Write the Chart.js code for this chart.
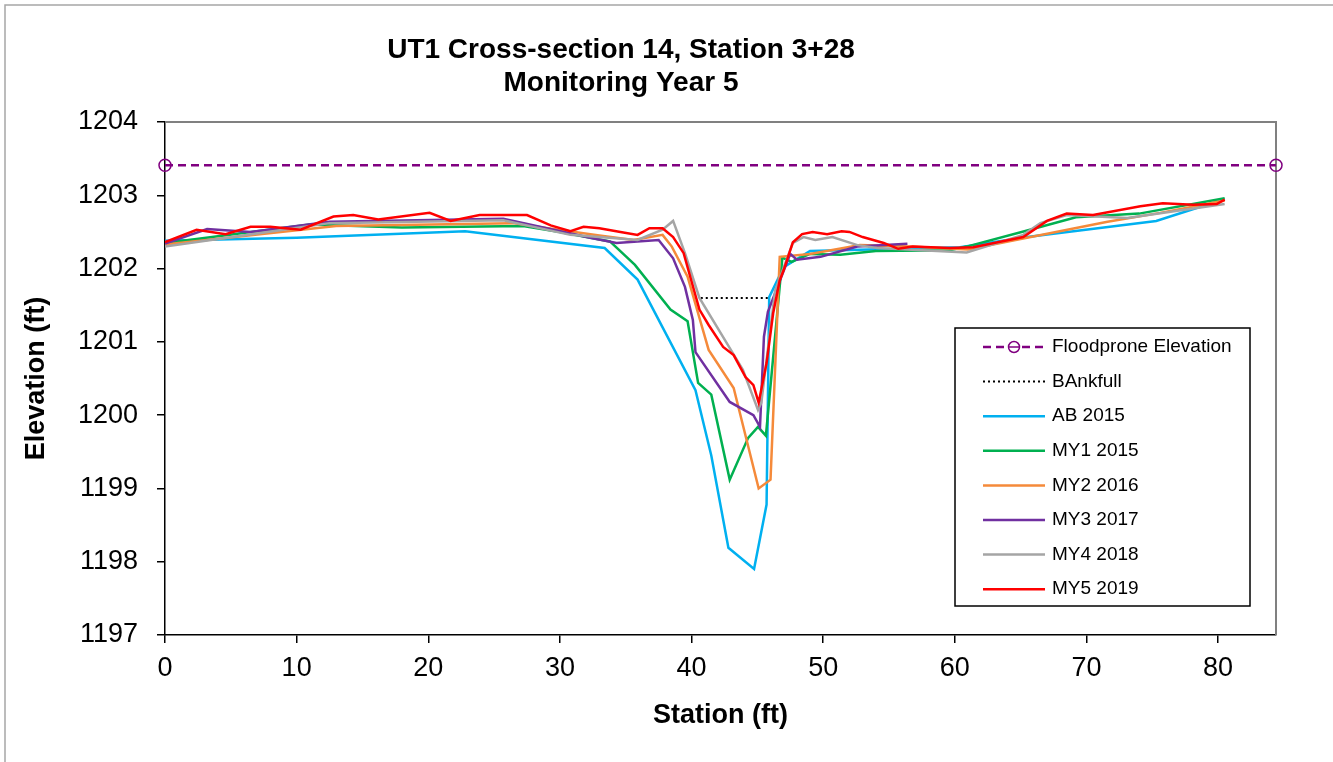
<!DOCTYPE html>
<html>
<head>
<meta charset="utf-8">
<script src="https://cdn.jsdelivr.net/npm/chart.js@4.4.1/dist/chart.umd.min.js"></script>
<style>
  html, body { margin: 0; padding: 0; background: #fff; }
  #wrap { width: 1333px; height: 762px; position: relative; }
</style>
</head>
<body>
<div id="wrap"><canvas id="xsChart" width="1333" height="762"></canvas></div>
<script>
//-------------
//- DATA (station ft / elevation ft)
//-------------
var titleLines = ["UT1 Cross-section 14, Station 3+28", "Monitoring Year 5"];

var floodX = [0, 84.4];
var floodY = [1203.41, 1203.41];

var bankX = [40.7, 45.9];
var bankY = [1201.6, 1201.6];

var abX = [0, 10, 22.8, 33.4, 35.9, 40.3, 41.5, 42.8, 44.75, 45.7, 45.9, 47.0, 49.0, 60.4, 65.5, 75.3, 80.5];
var abY = [1202.38, 1202.42, 1202.51, 1202.28, 1201.85, 1200.34, 1199.45, 1198.19, 1197.90, 1198.78, 1201.61, 1202.02, 1202.24, 1202.29, 1202.43, 1202.65, 1202.95];

var my1X = [0, 11, 18, 27.2, 30, 33.8, 35.7, 38.4, 39.7, 40.5, 41.5, 42.9, 44.3, 45.05, 45.65, 46.9, 47.6, 49, 51.3, 54, 59.6, 60.9, 65.5, 69.2, 74, 80.5];
var my1Y = [1202.35, 1202.6, 1202.56, 1202.58, 1202.5, 1202.37, 1202.05, 1201.44, 1201.28, 1200.44, 1200.28, 1199.12, 1199.69, 1199.84, 1199.72, 1202.15, 1202.09, 1202.2, 1202.19, 1202.24, 1202.25, 1202.3, 1202.52, 1202.7, 1202.75, 1202.96];

var my2X = [0, 13, 26.4, 33, 35.6, 37.8, 38.5, 39.7, 41.3, 43.2, 45.1, 46, 46.7, 49, 52.8, 56.6, 61, 71.6, 75.6, 80.5];
var my2Y = [1202.33, 1202.58, 1202.62, 1202.45, 1202.39, 1202.46, 1202.3, 1201.89, 1200.89, 1200.37, 1199.0, 1199.12, 1202.16, 1202.2, 1202.32, 1202.3, 1202.26, 1202.64, 1202.76, 1202.93];

var my3X = [0, 3.2, 6.5, 12.5, 25.7, 32.3, 34.3, 37.5, 38.6, 39.5, 40.1, 40.3, 42.9, 44.7, 45.2, 45.5, 45.8, 47.5, 48, 49.8, 52.6, 56.4];
var my3Y = [1202.34, 1202.54, 1202.5, 1202.64, 1202.68, 1202.42, 1202.35, 1202.39, 1202.14, 1201.75, 1201.3, 1200.86, 1200.18, 1200.0, 1199.84, 1201.07, 1201.41, 1202.2, 1202.12, 1202.16, 1202.3, 1202.34];

var my4X = [0, 9, 12.5, 25.7, 30.8, 35.9, 37.8, 38.6, 39.5, 40.6, 43.9, 45.05, 45.3, 46.35, 47.7, 48.5, 49.4, 50.7, 52.6, 54.1, 60.9, 65.2, 66.5, 68.5, 73.1, 80.5];
var my4Y = [1202.3, 1202.53, 1202.62, 1202.66, 1202.46, 1202.39, 1202.53, 1202.65, 1202.21, 1201.6, 1200.62, 1200.07, 1200.17, 1201.7, 1202.35, 1202.43, 1202.39, 1202.43, 1202.32, 1202.28, 1202.22, 1202.46, 1202.62, 1202.73, 1202.69, 1202.88];

var my5X = [0, 2.4, 4.6, 6.5, 8, 10.3, 12.8, 14.3, 16.2, 20.1, 21.7, 23.9, 27.5, 29.3, 30.8, 31.8, 33, 34.6, 35.9, 36.8, 37.8, 38.6, 39.4, 40.6, 41.3, 42.4, 43.2, 44.1, 44.7, 45.1, 45.7, 46.2, 46.7, 47.0, 47.7, 48.4, 49.2, 50.3, 51.4, 52, 53, 54.6, 55.7, 56.8, 59.6, 61.4, 65.2, 67, 68.5, 70.5, 74.1, 75.8, 78.1, 79.9, 80.5];
var my5Y = [1202.36, 1202.53, 1202.47, 1202.57, 1202.57, 1202.53, 1202.71, 1202.73, 1202.67, 1202.76, 1202.65, 1202.73, 1202.73, 1202.59, 1202.51, 1202.57, 1202.55, 1202.5, 1202.46, 1202.55, 1202.55, 1202.43, 1202.21, 1201.44, 1201.23, 1200.93, 1200.82, 1200.52, 1200.41, 1200.17, 1200.71, 1201.39, 1201.84, 1201.98, 1202.36, 1202.47, 1202.5, 1202.47, 1202.51, 1202.5, 1202.43, 1202.35, 1202.27, 1202.3, 1202.28, 1202.29, 1202.43, 1202.65, 1202.75, 1202.73, 1202.85, 1202.89, 1202.87, 1202.88, 1202.94];

//-------------
//- STYLE
//-------------
var FONT = "'Liberation Sans', Arial, sans-serif";
var COLOR_FLOOD = "#800080";
var COLOR_AB = "#00B0F0";
var COLOR_MY1 = "#00B050";
var COLOR_MY2 = "#F58A3A";
var COLOR_MY3 = "#7030A0";
var COLOR_MY4 = "#A5A5A5";
var COLOR_MY5 = "#FF0000";

function pts(xs, ys) {
    var out = [];
    for (var i = 0; i < xs.length; i++) {
        out.push({ x: xs[i], y: ys[i] });
    }
    return out;
}

function survey(label, xs, ys, color) {
    return {
        label: label,
        data: pts(xs, ys),
        borderColor: color,
        backgroundColor: color,
        borderWidth: 2.5,
        pointRadius: 0,
        tension: 0,
        fill: false
    };
}

var datasets = [
    {
        label: "Floodprone Elevation",
        data: pts(floodX, floodY),
        borderColor: COLOR_FLOOD,
        borderWidth: 2.5,
        borderDash: [8, 5],
        pointRadius: 6,
        pointStyle: "circle",
        pointBorderColor: COLOR_FLOOD,
        pointBackgroundColor: "rgba(0,0,0,0)",
        pointBorderWidth: 1.5,
        clip: false,
        fill: false
    },
    {
        label: "BAnkfull",
        data: pts(bankX, bankY),
        borderColor: "#000000",
        borderWidth: 2,
        borderDash: [2, 3],
        pointRadius: 0,
        fill: false
    },
    survey("AB 2015", abX, abY, COLOR_AB),
    survey("MY1 2015", my1X, my1Y, COLOR_MY1),
    survey("MY2 2016", my2X, my2Y, COLOR_MY2),
    survey("MY3 2017", my3X, my3Y, COLOR_MY3),
    survey("MY4 2018", my4X, my4Y, COLOR_MY4),
    survey("MY5 2019", my5X, my5Y, COLOR_MY5)
];
// later surveys drawn on top
for (var i = 0; i < datasets.length; i++) {
    datasets[i].order = datasets.length - i;
}

//- frame, title, plot box border and boxed legend
var decorPlugin = {
    id: "decor",
    beforeDraw: function (chart) {
        var ctx = chart.ctx;
        ctx.save();
        ctx.fillStyle = "#fff";
        ctx.fillRect(0, 0, chart.width, chart.height);
        ctx.strokeStyle = "#A6A6A6";
        ctx.lineWidth = 1.5;
        ctx.strokeRect(5, 5, chart.width + 20, chart.height + 20);
        ctx.fillStyle = "#000";
        ctx.font = "bold 28px " + FONT;
        ctx.textAlign = "center";
        ctx.textBaseline = "middle";
        ctx.fillText(titleLines[0], 621, 50);
        ctx.fillText(titleLines[1], 621, 83);
        ctx.restore();
    },
    beforeDatasetsDraw: function (chart) {
        var a = chart.chartArea;
        var ctx = chart.ctx;
        ctx.save();
        ctx.strokeStyle = "#808080";
        ctx.lineWidth = 2;
        ctx.beginPath();
        ctx.moveTo(a.left, a.top);
        ctx.lineTo(a.right, a.top);
        ctx.lineTo(a.right, a.bottom);
        ctx.stroke();
        ctx.restore();
    },
    afterDraw: function (chart) {
        var ctx = chart.ctx;
        var box = { x: 955, y: 328, w: 295, h: 278 };
        ctx.save();
        ctx.fillStyle = "#fff";
        ctx.fillRect(box.x, box.y, box.w, box.h);
        ctx.strokeStyle = "#000";
        ctx.lineWidth = 1.5;
        ctx.strokeRect(box.x, box.y, box.w, box.h);
        ctx.font = "19px " + FONT;
        ctx.textAlign = "left";
        ctx.textBaseline = "middle";
        var ds = chart.data.datasets;
        for (var i = 0; i < ds.length; i++) {
            var y = 347 + i * 34.6;
            ctx.strokeStyle = ds[i].borderColor;
            ctx.lineWidth = ds[i].borderWidth;
            ctx.setLineDash(ds[i].borderDash || []);
            ctx.beginPath();
            ctx.moveTo(983, y);
            ctx.lineTo(1045, y);
            ctx.stroke();
            ctx.setLineDash([]);
            if (ds[i].pointRadius > 0) {
                ctx.lineWidth = ds[i].pointBorderWidth;
                ctx.beginPath();
                ctx.arc(1014, y, 5.5, 0, Math.PI * 2);
                ctx.fillStyle = "#fff";
                ctx.fill();
                ctx.stroke();
                ctx.beginPath();
                ctx.moveTo(1008.5, y);
                ctx.lineTo(1019.5, y);
                ctx.stroke();
            }
            ctx.fillStyle = "#000";
            ctx.fillText(ds[i].label, 1052, y);
        }
        ctx.restore();
    }
};

var ctx = document.getElementById("xsChart").getContext("2d");
var chart = new Chart(ctx, {
    type: "line",
    data: { datasets: datasets },
    plugins: [decorPlugin],
    options: {
        responsive: false,
        animation: false,
        devicePixelRatio: 1,
        layout: { padding: { top: 122, right: 57, bottom: 0, left: 0 } },
        plugins: {
            legend: { display: false },
            title: { display: false },
            tooltip: { enabled: false }
        },
        scales: {
            x: {
                type: "linear",
                min: 0,
                max: 84.4,
                afterFit: function (scale) { scale.height = 127; },
                border: { display: true, color: "#000", width: 1.5 },
                grid: { drawOnChartArea: false, drawTicks: true, tickLength: 8, color: "#000", lineWidth: 1.5 },
                ticks: {
                    stepSize: 10,
                    includeBounds: false,
                    maxRotation: 0,
                    padding: 9,
                    color: "#000",
                    font: { family: FONT, size: 27 },
                    callback: function (v) { return String(v); }
                },
                title: {
                    display: true,
                    text: "Station (ft)",
                    color: "#000",
                    font: { family: FONT, size: 27, weight: "bold" },
                    padding: { top: 4, bottom: 30 }
                }
            },
            y: {
                type: "linear",
                min: 1197,
                max: 1204,
                afterFit: function (scale) { scale.width = 165; },
                border: { display: true, color: "#000", width: 1.5 },
                grid: { drawOnChartArea: false, drawTicks: true, tickLength: 8, color: "#000", lineWidth: 1.5 },
                ticks: {
                    stepSize: 1,
                    padding: 19,
                    color: "#000",
                    font: { family: FONT, size: 27 },
                    callback: function (v) { return String(v); }
                },
                title: {
                    display: true,
                    text: "Elevation (ft)",
                    color: "#000",
                    font: { family: FONT, size: 27, weight: "bold" },
                    padding: { top: 20, bottom: 4 }
                }
            }
        }
    }
});
</script>
</body>
</html>
